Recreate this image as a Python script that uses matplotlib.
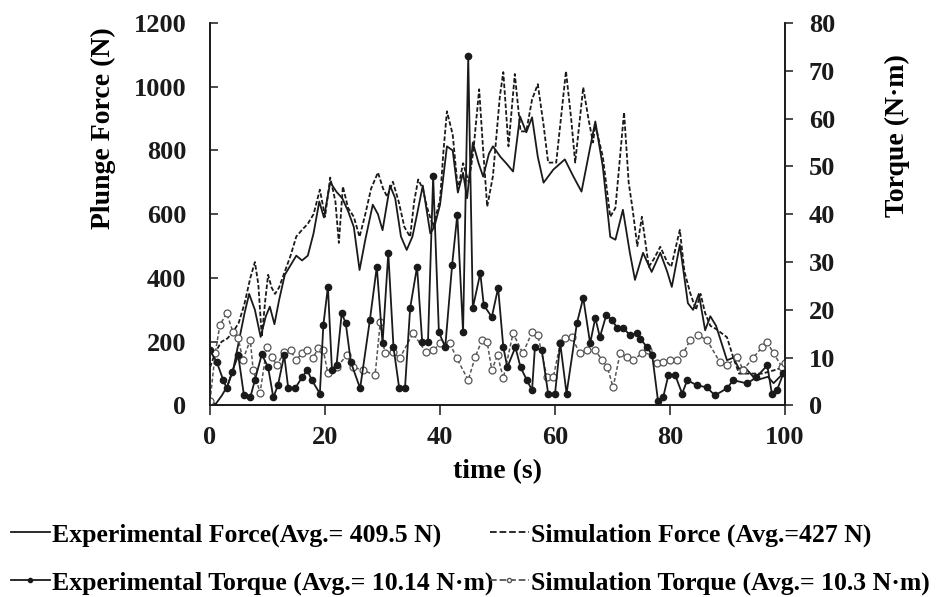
import matplotlib
matplotlib.use("Agg")
import matplotlib.pyplot as plt
from matplotlib.lines import Line2D

plt.rcParams["font.family"] = ["Liberation Serif", "DejaVu Serif"]
plt.rcParams["font.weight"] = "bold"

# Experimental plunge force (N)
t_exp_force = [0, 1, 2, 3, 4, 5, 6, 6.8, 7.8, 8.8, 9.7, 10.4, 11.2, 12, 13, 14, 15, 16, 17, 18,
               19, 19.8, 20.9, 22, 23, 24, 25, 26, 27, 28.3, 29.2, 30, 31.3, 32.2, 33.2, 34.2,
               35.2, 36, 37, 38.3, 39, 40, 41.2, 42.2, 43.1, 44, 44.7, 45.7, 46.7, 47.5, 48.5,
               49.2, 50.5, 51.5, 52.7, 53.9, 55, 56, 57, 58, 59.7, 61.7, 63.2, 64.6, 66, 67,
               68.3, 69.6, 70.5, 71.8, 73, 73.9, 75.3, 76.8, 78.3, 79.5, 80.3, 81.7, 82.5, 83.1,
               84, 85, 86.1, 87, 88, 89.9, 91, 92, 93, 95, 97, 98, 99.7]
exp_force = [10, 5, 30, 60, 110, 200, 290, 350, 300, 215, 280, 310, 255, 330, 410, 440, 470, 455,
             470, 540, 640, 590, 700, 670, 650, 610, 560, 425, 520, 630, 600, 550, 690, 650, 530,
             488, 530, 600, 690, 540, 560, 630, 813, 800, 668, 730, 650, 825, 760, 718, 790, 813,
             780, 760, 734, 907, 857, 904, 780, 699, 740, 772, 718, 671, 800, 891, 750, 529, 520,
             614, 480, 394, 479, 419, 479, 420, 372, 504, 400, 321, 300, 350, 236, 280, 250, 142,
             150, 115, 120, 79, 90, 70, 101]

# Simulated plunge force (N)
t_sim_force = [0, 1, 2, 3, 4, 5, 6, 7, 7.8, 8.4, 9, 9.6, 10.1, 10.7, 11.3, 12, 13, 14, 15, 16, 17,
               18, 19.1, 20, 20.9, 21.8, 22.4, 23.1, 24, 25, 26, 27, 28, 29.2, 30.1, 30.8, 31.8,
               32.8, 33.8, 34.8, 35.5, 36.2, 37, 37.7, 38.8, 40, 40.6, 41.2, 42.2, 43.1, 44, 45,
               45.8, 46.8, 47.5, 48.2, 49.2, 50.4, 51, 51.9, 53, 54, 55, 56, 57, 58, 58.8, 60.2,
               61.9, 62.8, 63.5, 64.9, 65.8, 66.6, 67, 68.3, 69.6, 70.5, 71.4, 72, 72.8, 73.5,
               74.3, 75.1, 76.3, 77.2, 78.3, 79.5, 80.2, 81.7, 82.5, 83.5, 84.5, 85.3, 86.1, 87,
               88, 89.9, 91, 92, 94, 96, 98, 99.7]
sim_force = [120, 170, 200, 210, 230, 260, 320, 400, 450, 380, 215, 330, 410, 370, 350, 370, 420,
             470, 530, 551, 570, 600, 677, 592, 715, 640, 510, 687, 620, 592, 529, 600, 680, 731,
             680, 655, 702, 640, 560, 529, 640, 709, 680, 624, 561, 646, 800, 923, 850, 677, 760,
             700, 800, 992, 800, 624, 720, 970, 1046, 813, 1040, 860, 860, 960, 1008, 880, 762,
             762, 1049, 900, 762, 998, 900, 825, 880, 781, 592, 620, 800, 920, 700, 614, 500, 592,
             435, 460, 498, 450, 435, 551, 420, 353, 300, 350, 290, 250, 240, 214, 150, 100, 100,
             100, 110, 120]

# Experimental torque (N·m)
t_exp_torque = [0, 1.2, 2.3, 2.9, 3.8, 4.9, 5.9, 7, 7.8, 9, 10.1, 11, 11.8, 12.9, 13.6, 14.8, 16,
                16.9, 17.7, 19.1, 19.7, 20.5, 21.2, 22, 22.9, 23.6, 24.5, 26.1, 27.8, 29, 30, 31,
                31.9, 32.9, 33.9, 34.8, 36, 36.9, 37.9, 38.8, 39.8, 40.9, 42.1, 43, 44, 44.9,
                45.7, 47, 47.6, 49, 50.1, 51, 51.7, 53.1, 54, 55.1, 56, 56.5, 57.7, 58.8, 60,
                60.9, 62, 63.8, 64.9, 66.1, 67, 67.8, 68.9, 69.9, 70.8, 71.9, 73, 74.3, 74.8, 76,
                76.9, 77.9, 78.8, 79.7, 80.9, 82.1, 83, 84.7, 86.4, 87.8, 89.9, 91, 93.4, 95,
                96.9, 97.7, 98.6, 99.7]
exp_torque = [11.5, 9, 5.3, 3.6, 6.9, 10.5, 2.1, 1.7, 5.3, 10.7, 8, 1.7, 4.2, 10.5, 3.6, 3.6, 5.9,
              7.4, 5.3, 2.5, 16.8, 24.8, 7.4, 8.5, 19.3, 17.2, 9, 3.6, 17.9, 29, 13, 31.9, 12.2,
              3.6, 3.6, 20.4, 29, 13.2, 13.2, 47.9, 15.3, 12.2, 29.4, 39.9, 15.3, 73, 20.4, 27.7,
              21, 18.5, 24.6, 12.2, 8, 12.2, 8, 5.3, 3.2, 12.2, 11.5, 2.5, 2.5, 13, 2.5, 17.2,
              22.5, 13, 18.3, 14.3, 18.9, 17.9, 16.2, 16.2, 14.7, 15.1, 14, 12.2, 10.5, 1, 1.7,
              6.3, 6.3, 2.5, 5.3, 4.2, 3.8, 2.1, 3.6, 5.3, 4.6, 5.9, 8.4, 2.5, 3.2, 6.7]

# Simulated torque (N·m)
t_sim_torque = [0, 0.9, 1.7, 2.9, 4, 4.9, 5.7, 7, 7.5, 8.7, 9.9, 10.8, 11.6, 12.9, 14, 15, 16,
                16.9, 17.9, 18.8, 19.7, 20.5, 22, 23.8, 24.9, 26.6, 28.7, 29.6, 30.4, 31.8, 33,
                35.3, 37.6, 38.8, 40, 41.7, 42.9, 44.9, 46.1, 47.3, 48.2, 49, 50, 51, 52.7, 54.4,
                56, 57, 58.6, 59.7, 60.9, 61.7, 62.9, 64.3, 65.6, 67, 68.2, 69.1, 70.1, 71.3,
                72.5, 73.6, 75.1, 76.2, 77.7, 78.8, 80, 81.2, 82.3, 83.5, 84.9, 86.4, 88.7, 89.9,
                91.7, 92.7, 94.4, 96, 96.9, 98, 99.5, 100]
sim_torque = [1, 10.9, 16.8, 19.3, 15.3, 14.1, 9.5, 13.7, 7.4, 2.7, 12.2, 10.1, 8.4, 11.1, 11.5,
              9.5, 11, 11.5, 9.9, 12, 11.5, 6.7, 8, 10.5, 8, 7.4, 6.3, 17.4, 10.9, 11.1, 9.9,
              15.1, 11.1, 11.5, 13, 13, 9.9, 5.3, 10.1, 13.7, 13.2, 7.4, 10.5, 5.7, 15.1, 10.9,
              15.3, 14.7, 5.9, 5.9, 13, 14.1, 14.3, 10.9, 11.5, 11.5, 9.5, 8, 3.8, 10.9, 10.1,
              9.5, 10.9, 11.5, 8.8, 9.1, 9.5, 9.5, 10.9, 13.7, 14.7, 13.7, 9, 8.4, 10.1, 7.4,
              9.9, 12.2, 13.2, 10.9, 8, 8.8]

labels = ["Experimental Force(Avg.= 409.5 N)",
          "Simulation Force (Avg.=427 N)",
          "Experimental Torque (Avg.= 10.14 N·m)",
          "Simulation Torque (Avg.= 10.3 N·m)"]

TICK_FS = 19
LABEL_FS = 20
LEG_FS = 18.5
ink = "#1a1a1a"

fig = plt.figure(figsize=(9.47, 5.97), dpi=100)
ax = fig.add_axes([0.2218, 0.3208, 0.6072, 0.6407])
ax2 = ax.twinx()

l1, = ax.plot(t_exp_force, exp_force, color=ink, lw=1.3, zorder=3)
l2, = ax.plot(t_sim_force, sim_force, color=ink, lw=1.3, ls=(0, (2.5, 1.2)), zorder=2)
l4, = ax2.plot(t_sim_torque, sim_torque, color="#555555", lw=1.1, ls=(0, (2.5, 1.5)),
               marker="o", ms=5, mfc="white", mec="#555555", mew=0.9, zorder=2)
l3, = ax2.plot(t_exp_torque, exp_torque, color=ink, lw=1.3, marker="o", ms=4.5,
               mfc=ink, mec=ink, zorder=3)

ax.set_xlim(0, 100)
ax.set_ylim(0, 1200)
ax2.set_ylim(0, 80)
ax.set_xticks(range(0, 101, 20))
ax.set_yticks(range(0, 1201, 200))
ax2.set_yticks(range(0, 81, 10))

for a in (ax, ax2):
    a.spines["top"].set_visible(False)
    for s in a.spines.values():
        s.set_linewidth(1.2)
        s.set_color(ink)
ax.tick_params(axis="y", direction="in", length=6, width=1.1, pad=17, labelsize=TICK_FS, colors=ink)
ax.tick_params(axis="x", direction="out", length=7, width=1.1, pad=8, labelsize=TICK_FS, colors=ink)
ax2.tick_params(axis="y", direction="out", length=6, width=1.1, pad=11, labelsize=TICK_FS, colors=ink)

fig.text(103 / 947, 1 - 128 / 597, "Plunge Force (N)", rotation=90, ha="center", va="center",
         fontsize=LABEL_FS, fontweight="bold")
fig.text(897 / 947, 1 - 136 / 597, "Torque (N·m)", rotation=90, ha="center", va="center",
         fontsize=LABEL_FS, fontweight="bold")
fig.text(497 / 947, 1 - 472 / 597, "time (s)", ha="center", va="center",
         fontsize=LABEL_FS, fontweight="bold")

# legend: two rows, second column aligned
leg_kw = dict(frameon=False, fontsize=LEG_FS, handlelength=1.5, handletextpad=0.1,
              borderpad=0, borderaxespad=0, loc="center left")
row1 = 1 - 535 / 597
row2 = 1 - 583 / 597
for h, lab, x, y in [(l1, labels[0], 11, row1), (l2, labels[1], 490, row1),
                     (l3, labels[2], 11, row2), (l4, labels[3], 490, row2)]:
    hh = Line2D([], [], color=h.get_color(), lw=1.3, ls=h.get_linestyle(),
                marker=h.get_marker(), ms=3 if h.get_marker() == "o" else 0,
                mfc=h.get_markerfacecolor(), mec=h.get_markeredgecolor())
    fig.legend([hh], [lab], bbox_to_anchor=(x / 947, y), **leg_kw)

fig.savefig("out.png", dpi=100)
